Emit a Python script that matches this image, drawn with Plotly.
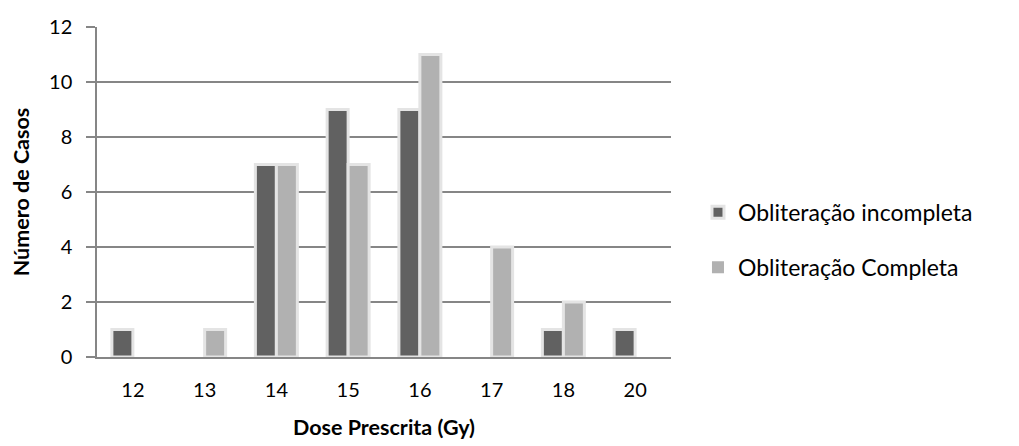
import plotly.graph_objects as go

doses = ["12", "13", "14", "15", "16", "17", "18", "20"]
incompleta = [1, 0, 7, 9, 9, 0, 1, 1]
completa = [0, 1, 7, 7, 11, 4, 2, 0]

FONT = "Lato"
GRID = "#868686"
HALO = "#e4e4e4"


def outline(values):
    # soft light border on each bar; none on empty categories
    return [0 if v == 0 else 3 for v in values]


fig = go.Figure()
fig.add_trace(go.Bar(
    x=doses, y=incompleta, name="Obliteração incompleta",
    marker=dict(color="#616161", line=dict(color=HALO, width=outline(incompleta))),
    legendgroup="a",
))
fig.add_trace(go.Bar(
    x=doses, y=completa, name="Obliteração Completa",
    marker=dict(color="#b1b1b1", line=dict(color=HALO, width=outline(completa))),
    legendgroup="b",
))

fig.update_layout(
    width=1019, height=446,
    margin=dict(l=97, r=348, t=27, b=89, autoexpand=False),
    paper_bgcolor="white", plot_bgcolor="white",
    barmode="group", bargap=0.415, bargroupgap=0.0,
    font=dict(family=FONT, size=20, color="#000000"),
    showlegend=True,
    legend=dict(
        x=1.047, y=0.355, xanchor="left", yanchor="middle",
        font=dict(family=FONT, size=23),
        tracegroupgap=22, itemwidth=30,
    ),
    xaxis=dict(
        type="category", showgrid=False, showline=True, automargin=False,
        linecolor=GRID, linewidth=1.5, ticks="",
        ticklabelstandoff=14,
        title=dict(text="<b>Dose Prescrita (Gy)</b>", font=dict(size=21.5), standoff=20),
        tickfont=dict(size=20),
    ),
    yaxis=dict(
        range=[0, 12], dtick=2, showgrid=True, gridcolor=GRID, gridwidth=1.5,
        showline=True, linecolor=GRID, linewidth=1.5, automargin=False,
        ticks="outside", ticklen=9, tickcolor=GRID, tickwidth=1.5,
        ticklabelstandoff=10,
        zeroline=False, tickfont=dict(size=20),
        title=dict(text="<b>Número de Casos</b>", font=dict(size=21.5), standoff=14),
    ),
)

fig.write_html("out.html")
